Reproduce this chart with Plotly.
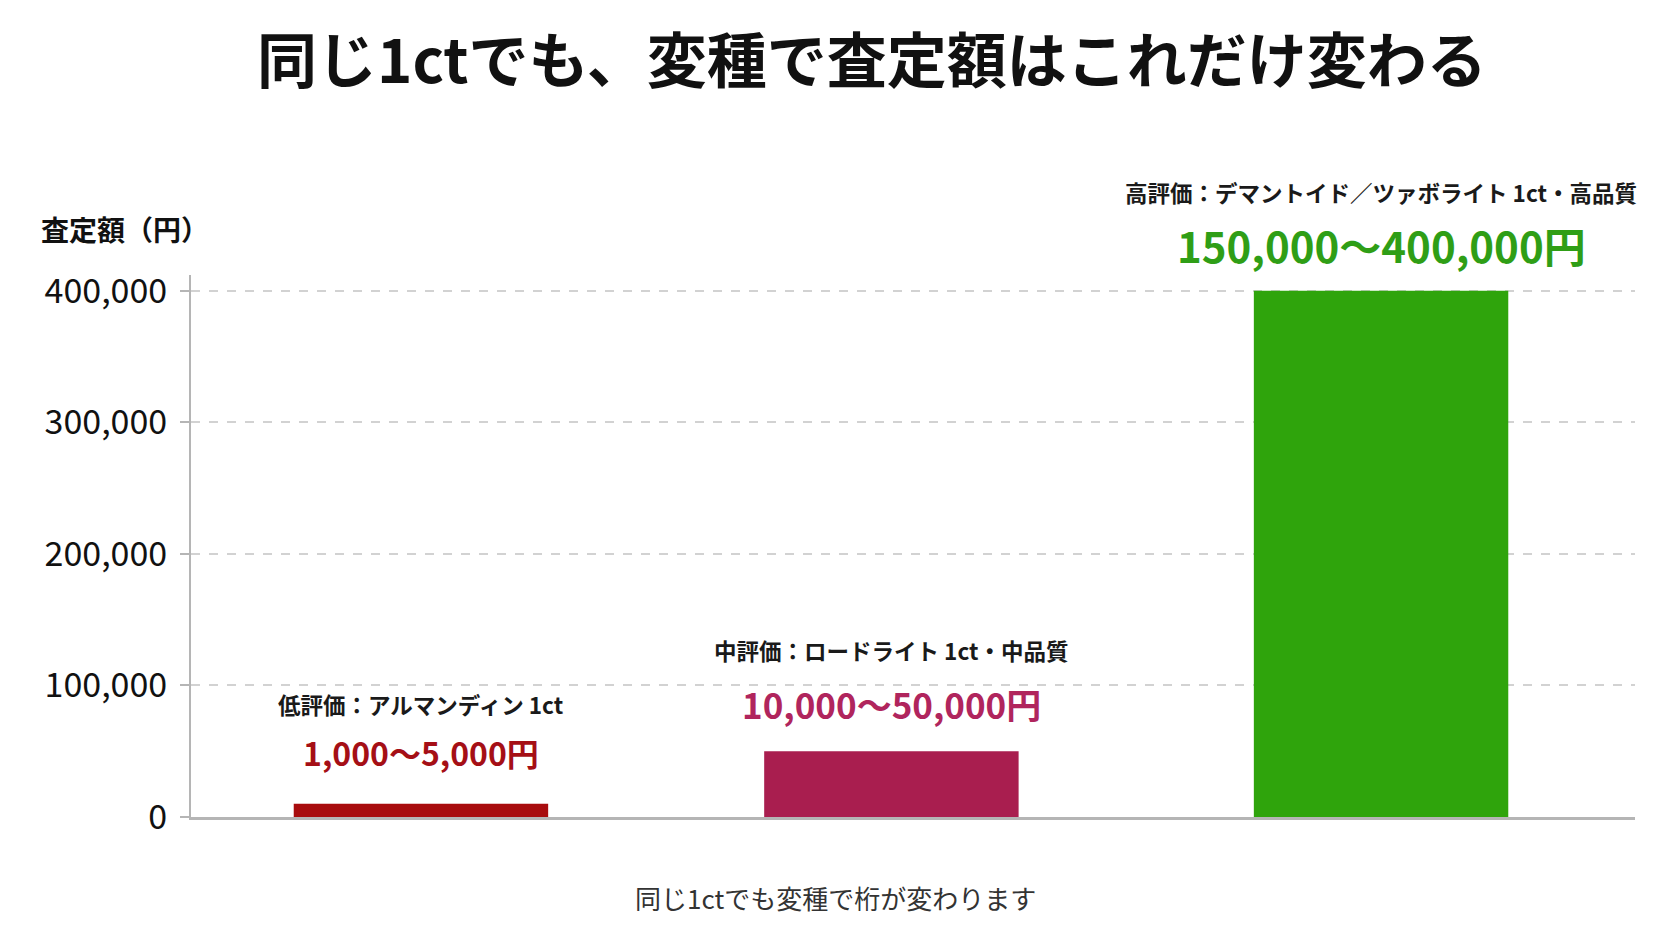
import plotly.graph_objects as go

# data
categories = ["低評価", "中評価", "高評価"]
values = [10000, 50000, 400000]
labels = ["低評価：アルマンディン 1ct",
          "中評価：ロードライト 1ct・中品質",
          "高評価：デマントイド／ツァボライト 1ct・高品質"]
ranges = ["1,000〜5,000円", "10,000〜50,000円", "150,000〜400,000円"]
tick_vals = [0, 100000, 200000, 300000, 400000]
tick_text = ["0", "100,000", "200,000", "300,000", "400,000"]

bar_colors = ["#a80c0e", "#a91e4f", "#2fa40c"]
range_colors = ["#a50f16", "#b0255d", "#2f9e16"]
FONT = "Noto Sans CJK JP"

# the middle bar sits a little left of its slot in the original
bar_offset = [-0.265, -0.285, -0.265]
label_shift = [0, -9.6, 0]

fig = go.Figure()
fig.add_trace(go.Bar(x=categories, y=values, marker_color=bar_colors,
                     marker_line_width=0, width=0.53, offset=bar_offset,
                     hoverinfo="skip"))

# label positions (paper y) for each bar, and font size of the range text
label_y = [0.2085, 0.308, 1.153]
range_y = [0.12, 0.2085, 1.057]
range_size = [32, 35, 42]

for i in range(len(categories)):
    fig.add_annotation(x=categories[i], y=label_y[i], xref="x", yref="paper",
                       xanchor="center", yanchor="middle", xshift=label_shift[i],
                       text=labels[i], showarrow=False,
                       font=dict(family=FONT, size=22.5, color="#1a1a1a", weight="bold"))
    fig.add_annotation(x=categories[i], y=range_y[i], xref="x", yref="paper",
                       xanchor="center", yanchor="middle", xshift=label_shift[i],
                       text=ranges[i], showarrow=False,
                       font=dict(family=FONT, size=range_size[i], color=range_colors[i], weight="bold"))

# y axis title in the upper left
fig.add_annotation(x=-0.105, y=1.085, xref="paper", yref="paper",
                   xanchor="left", yanchor="middle",
                   text="査定額（円）", showarrow=False,
                   font=dict(family=FONT, size=28, color="#111111", weight="bold"))

# footer note
fig.add_annotation(x=0.446, y=-0.149, xref="paper", yref="paper",
                   xanchor="center", yanchor="middle",
                   text="同じ1ctでも変種で桁が変わります", showarrow=False,
                   font=dict(family=FONT, size=26, color="#333333"))

# the page body adds an 8px margin, so the figure is 16px smaller than the window
fig.update_layout(
    width=1656, height=925,
    paper_bgcolor="white", plot_bgcolor="white",
    margin=dict(l=183, r=29, t=267, b=116),
    showlegend=False,
    title=dict(text="同じ1ctでも、変種で査定額はこれだけ変わる",
               x=0.5217, y=0.942, xanchor="center", yanchor="middle",
               font=dict(family=FONT, size=60, color="#111111", weight="bold")),
    font=dict(family=FONT),
)
fig.update_xaxes(range=[-0.479, 2.529], showticklabels=False, ticks="",
                 showline=True, linecolor="#b5b5b5", linewidth=3,
                 showgrid=False, zeroline=False)
fig.update_yaxes(range=[0, 412000], tickvals=tick_vals, ticktext=tick_text,
                 tickfont=dict(family=FONT, size=34, color="#111111"),
                 ticks="outside", ticklen=9, tickcolor="#b5b5b5", tickwidth=2,
                 ticklabelstandoff=6,
                 showline=True, linecolor="#b5b5b5", linewidth=2,
                 showgrid=True, gridcolor="#d2d2d2", griddash="dash", gridwidth=1.5,
                 zeroline=False)

fig.write_html("out.html")
